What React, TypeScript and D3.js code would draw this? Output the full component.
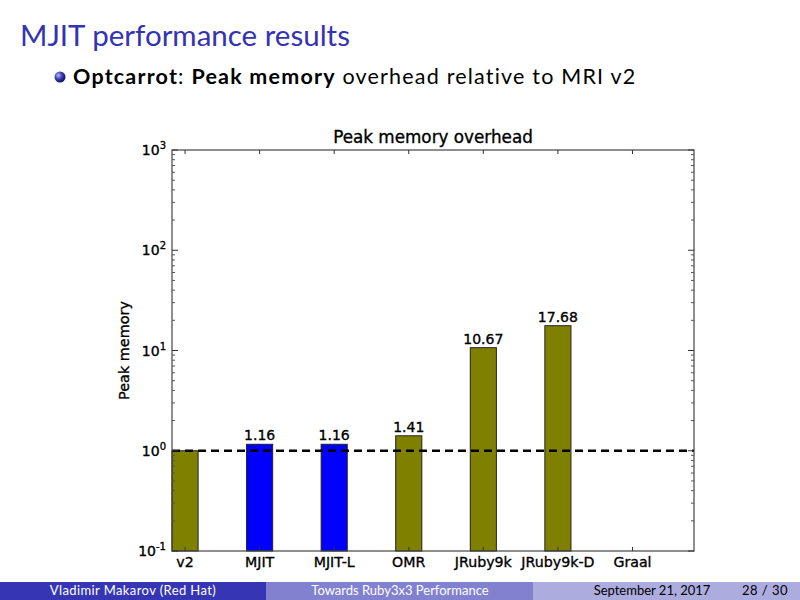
import React from 'react'
import * as d3 from 'd3'

const categories = ['v2', 'MJIT', 'MJIT-L', 'OMR', 'JRuby9k', 'JRuby9k-D', 'Graal']
const values: (number | null)[] = [1, 1.16, 1.16, 1.41, 10.67, 17.68, null]
const barLabels = ['', '1.16', '1.16', '1.41', '10.67', '17.68', '']
const barColors = ['#808000', '#0000ff', '#0000ff', '#808000', '#808000', '#808000', '#808000']
const decades = [-1, 0, 1, 2, 3]

const W = 800
const H = 600
const plot = { left: 172, right: 694, top: 150, bottom: 551 }
const barWidth = 0.35
const chartFont = '"DejaVu Sans", sans-serif'
const slideFont = 'Lato, "Open Sans", sans-serif'
// matplotlib text scaled down in the slide looks a bit heavy
const heavy = { stroke: '#000', strokeWidth: 0.35 }

export default function App() {
  const x = d3.scaleLinear().domain([0, 7]).range([plot.left, plot.right])
  const y = d3.scaleLog().domain([0.1, 1000]).range([plot.bottom, plot.top])

  const minor: number[] = []
  decades.slice(0, -1).forEach((d) => {
    for (let k = 2; k <= 9; k++) minor.push(k * Math.pow(10, d))
  })

  return (
    <svg
      width={W}
      height={H}
      style={{ position: 'absolute', left: 0, top: 0, background: '#fff' }}
    >
      <defs>
        <radialGradient id="ball" cx="0.35" cy="0.35" r="0.7">
          <stop offset="0" stopColor="#b8b8f0" />
          <stop offset="0.5" stopColor="#3a3ab5" />
          <stop offset="1" stopColor="#10104a" />
        </radialGradient>
      </defs>

      {/* slide header */}
      <text x={20} y={46} fontFamily={slideFont} fontSize={29.5} fill="#3333b3">
        MJIT performance results
      </text>
      <circle cx={60} cy={77} r={5.5} fill="url(#ball)" />
      <text x={73} y={84} fontFamily={slideFont} fontSize={21.5} letterSpacing={1.2} fill="#000">
        <tspan fontWeight="bold">Optcarrot</tspan>: <tspan fontWeight="bold">Peak memory</tspan> overhead relative to MRI v2
      </text>

      {/* chart */}
      <g fontFamily={chartFont}>
        <text
          x={(plot.left + plot.right) / 2}
          y={143}
          textAnchor="middle"
          fontSize={16.8}
          fill="#000"
          {...heavy}
        >
          Peak memory overhead
        </text>

        {categories.map((c, i) => {
          const v = values[i]
          if (v == null) return null
          const x0 = x(i)
          const x1 = x(i + barWidth)
          return (
            <g key={c}>
              <rect
                x={x0}
                y={y(v)}
                width={x1 - x0}
                height={y(0.1) - y(v)}
                fill={barColors[i]}
                stroke="#222"
                strokeWidth={1}
              />
              {barLabels[i] && (
                <text
                  x={x(i + barWidth / 2)}
                  y={y(v) - 4}
                  textAnchor="middle"
                  fontSize={14}
                  fill="#000"
                  {...heavy}
                >
                  {barLabels[i]}
                </text>
              )}
            </g>
          )
        })}

        <line
          x1={plot.left}
          x2={plot.right}
          y1={y(1)}
          y2={y(1)}
          stroke="#000"
          strokeWidth={2.3}
          strokeDasharray="8,5"
        />

        {/* frame */}
        <rect
          x={plot.left}
          y={plot.top}
          width={plot.right - plot.left}
          height={plot.bottom - plot.top}
          fill="none"
          stroke="#444"
          strokeWidth={1.2}
        />

        {/* y ticks */}
        {decades.map((d) => (
          <g key={'M' + d}>
            <line x1={plot.left} x2={plot.left + 6} y1={y(Math.pow(10, d))} y2={y(Math.pow(10, d))} stroke="#333" />
            <line x1={plot.right} x2={plot.right - 6} y1={y(Math.pow(10, d))} y2={y(Math.pow(10, d))} stroke="#333" />
            <text
              x={plot.left - 6}
              y={y(Math.pow(10, d)) + 5}
              textAnchor="end"
              fontSize={14}
              fill="#000"
              {...heavy}
            >
              10
              <tspan dy={-6} fontSize={10}>
                {d}
              </tspan>
            </text>
          </g>
        ))}
        {minor.map((m) => (
          <g key={'m' + m}>
            <line x1={plot.left} x2={plot.left + 3} y1={y(m)} y2={y(m)} stroke="#555" />
            <line x1={plot.right} x2={plot.right - 3} y1={y(m)} y2={y(m)} stroke="#555" />
          </g>
        ))}

        {/* x ticks */}
        {categories.map((c, i) => {
          const cx = x(i + barWidth / 2)
          return (
            <g key={'x' + c}>
              <line x1={cx} x2={cx} y1={plot.bottom} y2={plot.bottom - 4} stroke="#333" />
              <line x1={cx} x2={cx} y1={plot.top} y2={plot.top + 4} stroke="#333" />
              <text x={cx} y={plot.bottom + 16} textAnchor="middle" fontSize={14.2} fill="#000" {...heavy}>
                {c}
              </text>
            </g>
          )
        })}

        <text
          transform={`translate(129,${(plot.top + plot.bottom) / 2}) rotate(-90)`}
          textAnchor="middle"
          fontSize={14.4}
          fill="#000"
          {...heavy}
        >
          Peak memory
        </text>
      </g>

      {/* footer */}
      <rect x={0} y={582} width={266} height={18} fill="#3636b4" />
      <rect x={266} y={582} width={267} height={18} fill="#8181d0" />
      <rect x={533} y={582} width={267} height={18} fill="#acacdf" />
      <g fontFamily={slideFont} fontSize={13}>
        <text x={133} y={595} textAnchor="middle" fill="#fff" letterSpacing={0.4}>
          Vladimir Makarov  (Red Hat)
        </text>
        <text x={400} y={595} textAnchor="middle" fill="#fff">
          Towards Ruby3x3 Performance
        </text>
        <text x={652} y={595} textAnchor="middle" fill="#000">
          September 21, 2017
        </text>
        <text x={765} y={595} textAnchor="middle" fill="#000" letterSpacing={0.5}>
          28 / 30
        </text>
      </g>
    </svg>
  )
}
